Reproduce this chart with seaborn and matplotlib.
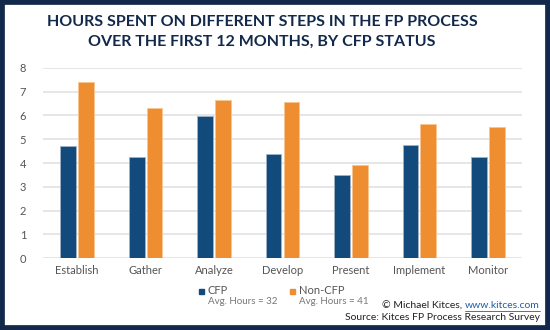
import matplotlib
matplotlib.use("Agg")
import matplotlib.pyplot as plt
import matplotlib.patches as mpatches
import seaborn as sns
import pandas as pd

categories = ["Establish", "Gather", "Analyze", "Develop", "Present", "Implement", "Monitor"]
cfp = [4.73, 4.24, 5.97, 4.38, 3.48, 4.74, 4.25]
non_cfp = [7.39, 6.29, 6.63, 6.57, 3.92, 5.62, 5.51]
series = ["CFP", "Non-CFP"]
avg_labels = ["Avg. Hours = 32", "Avg. Hours = 41"]
yticks = [0, 1, 2, 3, 4, 5, 6, 7, 8]

df = pd.DataFrame({
    "step": categories * 2,
    "hours": cfp + non_cfp,
    "status": [series[0]] * len(categories) + [series[1]] * len(categories),
})

sns.set_theme(style="white")
plt.rcParams['font.family'] = ['Lato', 'DejaVu Sans']

navy = "#13294b"
blue = "#134a7c"
orange = "#ef8e30"

fig = plt.figure(figsize=(5.5, 3.3), dpi=100)
ax = fig.add_axes([43/550, 1-258.3/330, (522-43)/550, (258.3-67.7)/330])

sns.barplot(data=df, x="step", y="hours", hue="status", order=categories,
            hue_order=series, palette=[blue, orange], width=0.52, gap=0.12,
            ax=ax, legend=False, saturation=1)
for p, c in zip(ax.patches, [blue]*7 + [orange]*7):
    p.set_edgecolor("#9fb3c8" if c == blue else "#f7c58f")
    p.set_linewidth(0.6)

ax.set_ylim(0, 8)
ax.set_xlim(-0.5, 6.5)
ax.set_yticks(yticks)
ax.set_yticklabels([str(t) for t in yticks])
ax.grid(axis="y", color="#e2e2e2", linewidth=1.2)
ax.set_axisbelow(True)
for s in ax.spines.values():
    s.set_visible(False)
ax.tick_params(axis="both", length=0, colors="#555555", labelsize=8)
ax.tick_params(axis="y", pad=12)
ax.tick_params(axis="x", pad=5)
ax.set_xlabel("")
ax.set_ylabel("")

fig.text(262/550, 1-22/330, "HOURS SPENT ON DIFFERENT STEPS IN THE FP PROCESS",
         ha="center", va="center", fontsize=11.5, fontweight="bold", color=navy)
fig.text(262/550, 1-42/330, "OVER THE FIRST 12 MONTHS, BY CFP STATUS",
         ha="center", va="center", fontsize=11.5, fontweight="bold", color=navy)

# legend
for x0, col, name, avg in [(199, blue, series[0], avg_labels[0]), (290, orange, series[1], avg_labels[1])]:
    fig.patches.append(mpatches.Rectangle((x0/550, 1-294/330), 5/550, 5/330,
                                          transform=fig.transFigure, color=col))
    fig.text((x0+9)/550, 1-291/330, name, ha="left", va="center", fontsize=8, color="#555555")
    fig.text((x0+9)/550, 1-302/330, avg, ha="left", va="center", fontsize=7, color="#777777")

link = fig.text(540/550, 1-306/330, "www.kitces.com", ha="right", va="center", fontsize=7.5,
                color="#1f5fa8")
fig.canvas.draw()
r = fig.canvas.get_renderer()
bb = link.get_window_extent(renderer=r)
fig.text(bb.x0/550 - 3/550, 1-306/330, "© Michael Kitces,", ha="right", va="center",
         fontsize=7.5, color="#222222")
fig.lines.append(plt.Line2D([bb.x0/550, bb.x1/550], [1-311/330, 1-311/330],
                            transform=fig.transFigure, color="#1f5fa8", linewidth=0.6))
fig.text(540/550, 1-318/330, "Source: Kitces FP Process Research Survey", ha="right",
         va="center", fontsize=7.5, color="#222222")

# frame border
fig.patches.append(mpatches.Rectangle((0, 0), 1, 1, transform=fig.transFigure,
                                      fill=False, edgecolor=navy, linewidth=7))

fig.savefig("out.png", dpi=100)
